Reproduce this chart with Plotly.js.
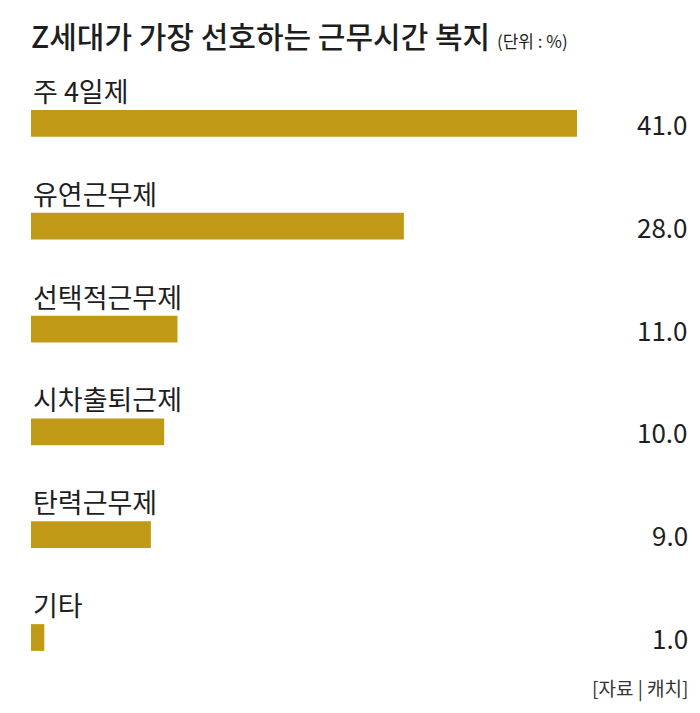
<!DOCTYPE html>
<html>
<head>
<meta charset="utf-8">
<script src="https://cdn.plot.ly/plotly-3.0.1.min.js"></script>
<style>
  html, body { margin: 0; padding: 0; background: #fff; }
  #canvas { width: 700px; height: 713px; }
</style>
</head>
<body>
<div id="canvas"></div>
<script>
// 근무시간 복지 선호도 (단위 : %)
var categories = ["주 4일제", "유연근무제", "선택적근무제", "시차출퇴근제", "탄력근무제", "기타"];
var values = [41.0, 28.0, 11.0, 10.0, 9.0, 1.0];

var fontFamily = '"Noto Sans CJK KR", "Noto Sans", sans-serif';
var barColor = 'rgb(192,154,22)';

var trace1 = {
  x: values,
  y: categories,
  type: 'bar',
  orientation: 'h',
  width: 0.26,
  hoverinfo: 'skip',
  marker: { color: barColor }
};

var annotations = [];
for (var i = 0; i < categories.length; i++) {
  // category label above bar
  annotations.push({
    x: 0, xref: 'x', xanchor: 'left',
    y: categories[i], yref: 'y', yanchor: 'middle',
    yshift: 33,
    text: categories[i],
    showarrow: false,
    font: { family: fontFamily, size: 27, color: '#1e1e1e' }
  });
  // value on the right
  annotations.push({
    x: 1, xref: 'paper', xanchor: 'right',
    y: categories[i], yref: 'y', yanchor: 'middle',
    text: values[i].toFixed(1),
    showarrow: false,
    font: { family: fontFamily, size: 26, color: '#1e1e1e' }
  });
}

// source
annotations.push({
  x: 1, xref: 'paper', xanchor: 'right',
  y: 1 - (688 - 72) / 620, yref: 'paper', yanchor: 'middle',
  text: '[자료 | 캐치]',
  showarrow: false,
  font: { family: fontFamily, size: 19, color: '#333' }
});

var layout = {
  width: 700,
  height: 713,
  paper_bgcolor: '#fff',
  plot_bgcolor: '#fff',
  showlegend: false,
  margin: { l: 31, r: 10, t: 72, b: 21 },
  title: {
    text: 'Z세대가 가장 선호하는 근무시간 복지 <span style="font-size:17px;font-weight:400">(단위 : %)</span>',
    x: 31 / 700, xanchor: 'left', xref: 'container',
    y: 1 - 37 / 713, yanchor: 'middle', yref: 'container',
    font: { family: fontFamily, size: 30, color: '#1e1e1e', weight: 500 }
  },
  xaxis: {
    range: [0, 41 * 659 / 546],
    visible: false,
    fixedrange: true
  },
  yaxis: {
    autorange: 'reversed',
    visible: false,
    fixedrange: true
  },
  annotations: annotations
};

Plotly.newPlot("canvas", [trace1], layout, { displayModeBar: false, staticPlot: true });
</script>
</body>
</html>
